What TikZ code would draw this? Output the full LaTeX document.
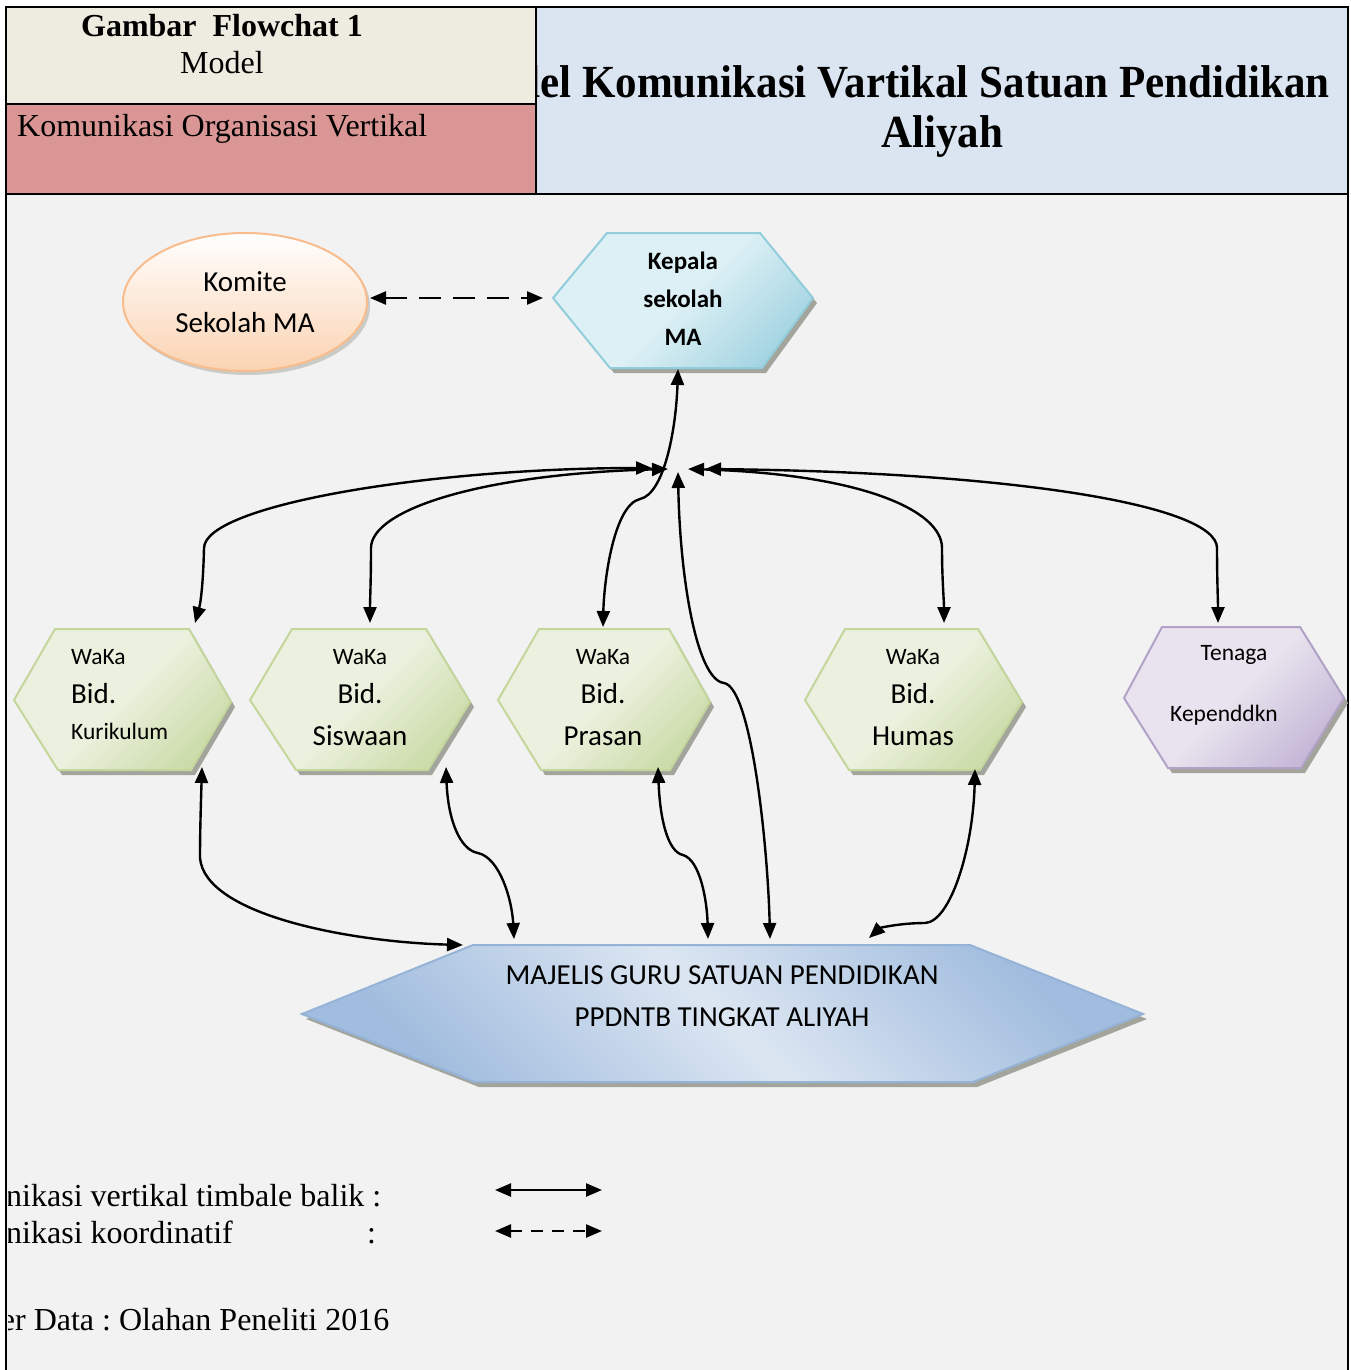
\documentclass[tikz,border=0pt]{standalone}
\usepackage{fontspec}
\setmainfont{Liberation Serif}
\newfontfamily\calfont{Carlito}
\usetikzlibrary{arrows.meta,shapes.geometric,shadows}
\definecolor{bgc}{HTML}{F2F2F2}
\definecolor{beige}{HTML}{EEECE1}
\definecolor{pinkc}{HTML}{D99694}
\definecolor{hdblue}{HTML}{DBE5F1}
\definecolor{grl}{HTML}{EBF1DE}
\definecolor{grd}{HTML}{CCDCAA}
\definecolor{grb}{HTML}{C3D69B}
\definecolor{pul}{HTML}{E8E3EE}
\definecolor{pud}{HTML}{C6B9D8}
\definecolor{pub}{HTML}{B3A2C7}
\definecolor{kel}{HTML}{DDF0F5}
\definecolor{ked}{HTML}{A5D5E2}
\definecolor{keb}{HTML}{92CDDC}
\definecolor{mal}{HTML}{DCE6F2}
\definecolor{mad}{HTML}{A0BCDE}
\definecolor{mab}{HTML}{95B3D7}
\definecolor{kob}{HTML}{FBD3B2}
\definecolor{kod}{HTML}{F9BC8C}
\definecolor{shc}{HTML}{A3A59C}
% #1 top, #2 middle, #3 bottom, #4 border, #5 angle, #6 path
\newcommand\myhex[6]{%
  \fill[shc] [shift={(4,5)}] #6 -- cycle;
  \shade[top color=#1, bottom color=#3, middle color=#2, shading angle=#5, draw=#4, line width=2pt] #6 -- cycle;
}
\frenchspacing
\begin{document}
\begin{tikzpicture}[x=1pt,y=-1pt,
  conn/.style={line width=2.4pt, {Triangle[length=16pt,width=13pt]}-{Triangle[length=16pt,width=13pt]}},
  dconn/.style={conn, dash pattern=on 22pt off 12pt},
  frameline/.style={line width=2.5pt, black},
  small/.style={font=\calfont\fontsize{23.5}{28}\selectfont, inner sep=0pt},
  big/.style={font=\calfont\fontsize{29}{34}\selectfont, inner sep=0pt},
  serif/.style={font=\fontsize{32}{38}\selectfont, inner sep=0pt}
]
\useasboundingbox (0,0) rectangle (1350,1370);
\fill[white] (0,0) rectangle (1350,1370);
\fill[bgc] (6,7) rectangle (1348,1370);
% header
\fill[beige] (6,7) rectangle (536,104);
\fill[pinkc] (6,104) rectangle (536,194);
\fill[hdblue] (536,7) rectangle (1348,194);
\draw[frameline] (6,1370) -- (6,7) -- (1348,7) -- (1348,1370);
\draw[frameline] (6,194) -- (1348,194);
\draw[frameline] (6,104) -- (536,104);
\draw[frameline] (536,7) -- (536,194);
\node (gam) [serif, font=\bfseries\fontsize{32}{38}\selectfont, anchor=base] at (222,37) {Gambar~~Flowchat 1};
\node (mod) [serif, anchor=base] at (222,74) {Model};
\node (kov) [serif, anchor=base west] at (17,136) {Komunikasi Organisasi Vertikal};
\begin{scope}
\clip (537,8) rectangle (1347,193);
\node (tt1) [inner sep=0pt, font=\bfseries\fontsize{46}{50}\selectfont, xscale=0.935, anchor=base east] at (1330,98) {Model Komunikasi Vartikal Satuan Pendidikan};
\node (tt2) [inner sep=0pt, font=\bfseries\fontsize{46}{50}\selectfont, xscale=0.935, anchor=base] at (942,147) {Aliyah};
\end{scope}
% Komite
\node (komite) [ellipse, draw=kod, line width=2pt, top color=white, bottom color=kob,
  minimum width=244pt, minimum height=138pt, align=center, inner sep=0pt,
  font=\calfont\fontsize{29}{41}\selectfont,
  drop shadow={shadow xshift=3pt, shadow yshift=-4pt, fill=shc}] at (245,302) {Komite\\Sekolah MA};
% Kepala
\myhex{kel}{kel}{ked}{keb}{45}{(553,298) -- (607,233) -- (760,233) -- (813,298) -- (762,368) -- (610,368)}
\node (kepala) [align=center, inner sep=0pt, font=\calfont\bfseries\fontsize{25}{38}\selectfont] at (683,299) {Kepala\\sekolah\\MA};
% WaKa hexes
\myhex{grl}{grl}{grd}{grb}{45}{(14,700) -- (55,629) -- (189,629) -- (231,702) -- (191,770) -- (58,770)}
\myhex{grl}{grl}{grd}{grb}{45}{(250,700) -- (292,629) -- (426,629) -- (470,702) -- (428,770) -- (296,770)}
\myhex{grl}{grl}{grd}{grb}{45}{(498,700) -- (539,629) -- (669,629) -- (710,702) -- (670,770) -- (541,770)}
\myhex{grl}{grl}{grd}{grb}{45}{(805,700) -- (845,629) -- (978,629) -- (1022,702) -- (980,770) -- (849,770)}
\myhex{pul}{pul}{pud}{pub}{45}{(1124,698) -- (1162,627) -- (1300,627) -- (1344,698) -- (1301,768) -- (1168,768)}
\node (k1) [small, anchor=west] at (71,657) {WaKa};
\node (k2) [big, anchor=west] at (71,694) {Bid.};
\node (k3) [small, anchor=west] at (71,731) {Kurikulum};
\node (s1) [small] at (360,657) {WaKa};
\node (s2) [big] at (360,694) {Bid.};
\node (s3) [big] at (360,736) {Siswaan};
\node (p1) [small] at (603,657) {WaKa};
\node (p2) [big] at (603,694) {Bid.};
\node (p3) [big] at (603,736) {Prasan};
\node (h1) [small] at (913,657) {WaKa};
\node (h2) [big] at (913,694) {Bid.};
\node (h3) [big] at (913,736) {Humas};
\node (t1) [small] at (1234,655) {Tenaga};
\node (t2) [small] at (1224,715) {Kependdkn};
% Majelis
\myhex{mad}{mal}{mad}{mab}{-45}{(302,1014) -- (473,945) -- (970,945) -- (1143,1014) -- (973,1082) -- (475,1082)}
\node (majelis) [align=center, inner sep=0pt, font=\calfont\fontsize{29}{42}\selectfont] at (722,996) {MAJELIS GURU SATUAN PENDIDIKAN\\PPDNTB TINGKAT ALIYAH};
% coordinates
\coordinate (komE) at (370,298);
\coordinate (kepW) at (543,298);
\coordinate (kepB) at (678,369);
\coordinate (hubK) at (652,468);
\coordinate (hubS) at (668,469);
\coordinate (hubM) at (678,472);
\coordinate (hubH) at (688,469);
\coordinate (hubT) at (705,469);
\coordinate (kurT) at (195,623);
\coordinate (sisT) at (370,623);
\coordinate (praT) at (603,627);
\coordinate (humT) at (944,623);
\coordinate (tenT) at (1218,623);
\coordinate (kurB) at (202,767);
\coordinate (sisB) at (446,767);
\coordinate (praB) at (658,767);
\coordinate (humB) at (975,769);
\coordinate (maK) at (463,945);
\coordinate (maS) at (514,939);
\coordinate (maP) at (708,939);
\coordinate (maM) at (770,939);
\coordinate (maH) at (869,938);
% connectors
\draw[dconn] (komE) -- (kepW);
\draw[conn] (hubK) .. controls (430,468) and (205,505) .. (204,548) .. controls (203,590) and (200,605) .. (kurT);
\draw[conn] (hubS) .. controls (480,474) and (371,510) .. (371,548) .. controls (371,580) and (370,600) .. (sisT);
\draw[conn] (hubH) .. controls (860,474) and (942,510) .. (942,548) .. controls (942,580) and (944,600) .. (humT);
\draw[conn] (hubT) .. controls (1010,472) and (1217,505) .. (1217,548) .. controls (1217,580) and (1218,600) .. (tenT);
\draw[conn] (kepB) .. controls (676,430) and (664,494) .. (640,499) .. controls (614,505) and (604,580) .. (praT);
\draw[conn] (hubM) .. controls (680,580) and (697,680) .. (724,683) .. controls (752,688) and (768,850) .. (maM);
\draw[conn] (kurB) .. controls (201,800) and (200,830) .. (200,858) .. controls (205,915) and (350,942) .. (maK);
\draw[conn] (sisB) .. controls (448,820) and (460,850) .. (478,853) .. controls (500,858) and (512,900) .. (maS);
\draw[conn] (praB) .. controls (660,820) and (668,852) .. (683,855) .. controls (700,860) and (707,900) .. (maP);
\draw[conn] (humB) .. controls (973,850) and (950,922) .. (925,923) .. controls (900,923) and (880,928) .. (maH);
% legend
\begin{scope}
\clip (8,1100) rectangle (700,1369);
\node (l1) [serif, anchor=base west] at (-74,1206) {Komunikasi vertikal timbale balik :};
\node (l2) [serif, anchor=base west] at (-74,1243) {Komunikasi koordinatif};
\node (l2c) [serif, anchor=base west] at (367,1243) {:};
\node (l3) [serif, anchor=base west] at (-74,1330) {Sumber Data : Olahan Peneliti 2016};
\end{scope}
\coordinate (la1) at (495,1190);
\coordinate (lb1) at (602,1190);
\coordinate (la2) at (495,1231);
\coordinate (lb2) at (602,1231);
\draw[conn] (la1) -- (lb1);
\draw[conn, dash pattern=on 12pt off 9pt] (la2) -- (lb2);
\end{tikzpicture}
\end{document}
